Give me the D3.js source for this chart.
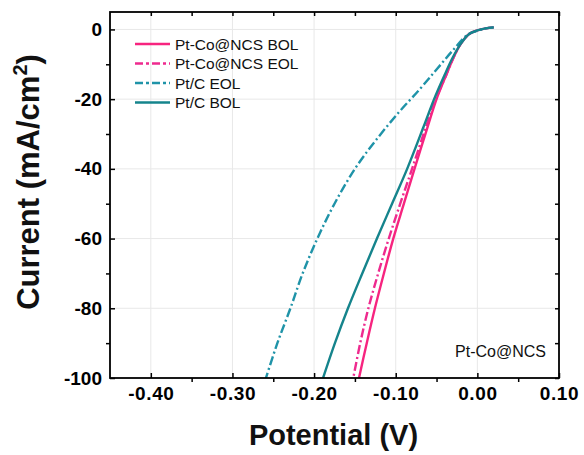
<!DOCTYPE html>
<html>
<head>
<meta charset="utf-8">
<script src="https://cdn.jsdelivr.net/npm/d3@7"></script>
<style>
  body { margin: 0; background: #fff; }
  svg { font-family: "Liberation Sans", Arial, sans-serif; }
</style>
</head>
<body>
<svg id="chart" width="584" height="455"></svg>
<script>
// values
const curSteps = [0.6, 0.3, -0.3, -1.3, -4, -8, -13, -20, -28, -40, -50, -60, -70, -80, -90, -100];
const potPtCoBOL = [0.020, 0.010, 0.000, -0.010, -0.020, -0.029, -0.038, -0.050, -0.061, -0.077, -0.090, -0.103, -0.1145, -0.1255, -0.1355, -0.145];
const potPtCoEOL = [0.020, 0.010, 0.000, -0.010, -0.020, -0.029, -0.038, -0.051, -0.063, -0.080, -0.0945, -0.1085, -0.1215, -0.1335, -0.1435, -0.152];
const potPtCBOL = [0.020, 0.010, 0.000, -0.010, -0.020, -0.030, -0.040, -0.053, -0.066, -0.086, -0.1045, -0.123, -0.141, -0.1585, -0.1745, -0.189];
const curPtCEOL = [0.6, 0.3, -0.4, -1.5, -6, -11.5, -17, -24, -32, -40, -50, -60, -70, -80, -90, -100];
const potPtCEOL = [0.020, 0.010, 0.000, -0.012, -0.030, -0.050, -0.070, -0.097, -0.125, -0.150, -0.175, -0.196, -0.214, -0.229, -0.245, -0.259];

const xMajor = [-0.40, -0.30, -0.20, -0.10, 0.00, 0.10];
const xMinor = [-0.35, -0.25, -0.15, -0.05, 0.05];
const yMajor = [0, -20, -40, -60, -80, -100];
const yMinor = [-10, -30, -50, -70, -90];

const series = [
  { name: 'Pt-Co@NCS BOL', pot: potPtCoBOL, cur: curSteps, color: '#f7247f', dash: null },
  { name: 'Pt-Co@NCS EOL', pot: potPtCoEOL, cur: curSteps, color: '#ee2a8e', dash: '9,3,2,3' },
  { name: 'Pt/C EOL', pot: potPtCEOL, cur: curPtCEOL, color: '#1f93a8', dash: '9,3,2,3' },
  { name: 'Pt/C BOL', pot: potPtCBOL, cur: curSteps, color: '#15848c', dash: null }
];

const svg = d3.select('#chart');
const margin = { top: 12, right: 25, bottom: 77, left: 110 };
const width = 584, height = 455;
const x0 = margin.left, x1 = width - margin.right;
const y0 = margin.top, y1 = height - margin.bottom;

const x = d3.scaleLinear().domain([-0.45, 0.10]).range([x0, x1]);
const y = d3.scaleLinear().domain([-100, 5]).range([y1, y0]);

// grid
svg.append('g').selectAll('line.vg').data(xMajor.slice(0, -1)).enter().append('line')
  .attr('x1', d => x(d)).attr('x2', d => x(d)).attr('y1', y0).attr('y2', y1)
  .attr('stroke', '#e8e8e8').attr('stroke-width', 1);
svg.append('g').selectAll('line.hg').data(yMajor.slice(0, -1)).enter().append('line')
  .attr('y1', d => y(d)).attr('y2', d => y(d)).attr('x1', x0).attr('x2', x1)
  .attr('stroke', '#e8e8e8').attr('stroke-width', 1);

// curves
svg.append('clipPath').attr('id', 'clip').append('rect')
  .attr('x', x0).attr('y', y0).attr('width', x1 - x0).attr('height', y1 - y0);

const line = d3.line().x(d => x(d[0])).y(d => y(d[1])).curve(d3.curveCatmullRom);
const plot = svg.append('g').attr('clip-path', 'url(#clip)');
series.forEach(s => {
  plot.append('path')
    .datum(s.pot.map((p, i) => [p, s.cur[i]]))
    .attr('d', line)
    .attr('fill', 'none')
    .attr('stroke', s.color)
    .attr('stroke-width', 2.4)
    .attr('stroke-dasharray', s.dash);
});

// axes
function styleAxis(g) {
  g.select('.domain').remove();
  g.selectAll('.tick line').attr('stroke', '#000').attr('stroke-width', 1.5);
  g.selectAll('.tick text').attr('fill', '#000').attr('font-weight', 'bold').attr('font-size', 19);
}

svg.append('g').attr('transform', `translate(0,${y1})`)
  .call(d3.axisBottom(x).tickValues(xMajor).tickSize(-5).tickPadding(9).tickFormat(d => d.toFixed(2)))
  .call(styleAxis)
  .selectAll('text').attr('letter-spacing', 0.6);
svg.append('g').attr('transform', `translate(0,${y1})`)
  .call(d3.axisBottom(x).tickValues(xMinor).tickSize(4).tickFormat(''))
  .call(styleAxis);
svg.append('g').attr('transform', `translate(${x0},0)`)
  .call(d3.axisLeft(y).tickValues(yMajor).tickSize(-5).tickPadding(8).tickFormat(d => String(d)))
  .call(styleAxis);
svg.append('g').attr('transform', `translate(${x0},0)`)
  .call(d3.axisLeft(y).tickValues(yMinor).tickSize(4).tickFormat(''))
  .call(styleAxis);
svg.append('g').attr('transform', `translate(0,${y0})`)
  .call(d3.axisTop(x).tickValues(xMajor.concat(xMinor)).tickSize(-4).tickFormat(''))
  .call(styleAxis);
svg.append('g').attr('transform', `translate(${x1},0)`)
  .call(d3.axisRight(y).tickValues(yMajor.concat(yMinor)).tickSize(-4).tickFormat(''))
  .call(styleAxis);

// frame
svg.append('rect').attr('x', x0).attr('y', y0).attr('width', x1 - x0).attr('height', y1 - y0)
  .attr('fill', 'none').attr('stroke', '#000').attr('stroke-width', 1.8);

// titles
svg.append('text').attr('x', (x0 + x1) / 2 - 1).attr('y', 445)
  .attr('text-anchor', 'middle').attr('font-weight', 'bold').attr('font-size', 29)
  .attr('fill', '#111').text('Potential (V)');

const yt = svg.append('text').attr('transform', 'translate(39,182) rotate(-90)')
  .attr('text-anchor', 'middle').attr('font-weight', 'bold').attr('font-size', 31).attr('fill', '#111');
yt.append('tspan').text('Current (mA/cm');
yt.append('tspan').attr('font-size', 20).attr('dy', -12).text('2');
yt.append('tspan').attr('dy', 12).text(')');

// legend
const legend = svg.append('g');
series.forEach((s, i) => {
  const ly = 44 + i * 19.5;
  legend.append('line').attr('x1', 135).attr('x2', 170).attr('y1', ly).attr('y2', ly)
    .attr('stroke', s.color).attr('stroke-width', 2.6).attr('stroke-dasharray', s.dash ? '8,3,3,3' : null);
  legend.append('text').attr('x', 175).attr('y', ly + 5.5).attr('font-size', 15.5)
    .attr('fill', '#111').text(s.name);
});

// annotation
svg.append('text').attr('x', 546).attr('y', 357).attr('text-anchor', 'end')
  .attr('font-size', 16).attr('fill', '#111').text('Pt-Co@NCS');
</script>
</body>
</html>
